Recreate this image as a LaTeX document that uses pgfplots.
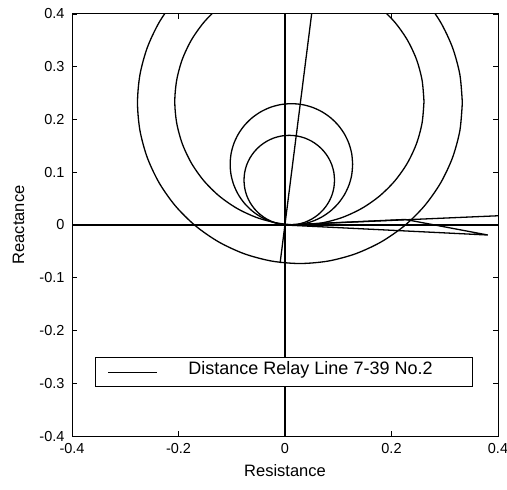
\documentclass[border=0pt]{standalone}
\usepackage{fontspec}
\setmainfont{Liberation Sans}
\usepackage{pgfplots}
\pgfplotsset{compat=1.18}
\begin{document}
\begin{tikzpicture}
\begin{axis}[
  name=ax,
  scale only axis, width=426pt, height=422pt,
  xmin=-0.4, xmax=0.4, ymin=-0.4, ymax=0.4,
  xtick={-0.4,-0.2,0,0.2,0.4}, xticklabels={-0.4,-0.2,0,0.2,0.4},
  ytick={-0.4,-0.3,-0.2,-0.1,0,0.1,0.2,0.3,0.4},
  yticklabels={-0.4,-0.3,-0.2,-0.1,0,0.1,0.2,0.3,0.4},
  tick align=inside, major tick length=5pt,
  axis line style={line width=1pt},
  tick style={line width=0.9pt, black},
  ticklabel style={font=\fontsize{14.5}{17}\selectfont},
  xticklabel style={yshift=-4pt},
  yticklabel style={xshift=-4pt},
  xlabel={Resistance}, ylabel={Reactance},
  label style={font=\fontsize{16.5}{19}\selectfont},
  xlabel style={at={(axis description cs:0.5,-0.0964)}, anchor=base},
  ylabel style={at={(axis description cs:-0.1256,0.5)}, anchor=center},
  legend style={at={(axis description cs:0.054,0.116)}, anchor=south west,
    draw=black, line width=0.9pt, inner xsep=0pt, inner ysep=0pt,
    /tikz/column sep=0pt, /tikz/row sep=0pt,
    nodes={inner sep=0pt, text height=17.2pt, text depth=11.8pt,
           font=\fontsize{18}{21}\selectfont}},
  legend cell align=left,
  legend image code/.code={\path[draw=none,fill=none] (0pt,-2pt) rectangle (93pt,2pt);\draw[#1] (13pt,0pt) -- (62pt,0pt);},
]
% reference axes through origin
\addplot[black, line width=1.1pt] coordinates {(-0.4,0) (0.4,0)};
\addlegendentry{\makebox[284pt][l]{Distance Relay Line 7-39 No.2}}
\addplot[black, line width=1.1pt, forget plot] coordinates {(0,-0.4) (0,0.4)};
% line angle
\addplot[black, line width=1.3pt, forget plot] coordinates {(-0.0092,-0.072) (0.050,0.40)};
% lines to the right
\addplot[black, line width=1.3pt, forget plot] coordinates {(0,0) (0.4,0.0175)};
\addplot[black, line width=1.3pt, forget plot] coordinates {(0,0) (0.226,0.0105) (0.381,-0.019) (0,0)};
% circle 1
\addplot[black, line width=1.3pt, smooth, forget plot] coordinates {
(0.093,0.085) (0.0917,0.0998) (0.0879,0.1141) (0.0816,0.1275) (0.0731,0.1396) (0.0626,0.1501)
(0.0505,0.1586) (0.0371,0.1649) (0.0228,0.1687) (0.008,0.170) (-0.0068,0.1687) (-0.0211,0.1649)
(-0.0345,0.1586) (-0.0466,0.1501) (-0.0571,0.1396) (-0.0656,0.1275) (-0.0719,0.1141) (-0.0757,0.0998)
(-0.077,0.085) (-0.0757,0.0702) (-0.0719,0.0559) (-0.0656,0.0425) (-0.0571,0.0304) (-0.0466,0.0199)
(-0.0345,0.0114) (-0.0211,0.0051) (-0.0068,0.0013) (0.008,0.000) (0.0228,0.0013) (0.0371,0.0051)
(0.0505,0.0114) (0.0626,0.0199) (0.0731,0.0304) (0.0816,0.0425) (0.0879,0.0559) (0.0917,0.0702)
(0.093,0.085)};
% circle 2
\addplot[black, line width=1.3pt, smooth, forget plot] coordinates {
(0.127,0.115) (0.1253,0.1350) (0.1201,0.1543) (0.1116,0.1725) (0.1001,0.1889) (0.0859,0.2031)
(0.0695,0.2146) (0.0513,0.2231) (0.032,0.2283) (0.012,0.230) (-0.008,0.2283) (-0.0273,0.2231)
(-0.0455,0.2146) (-0.0619,0.2031) (-0.0761,0.1889) (-0.0876,0.1725) (-0.0961,0.1543) (-0.1013,0.1350)
(-0.103,0.115) (-0.1013,0.095) (-0.0961,0.0757) (-0.0876,0.0575) (-0.0761,0.0411) (-0.0619,0.0269)
(-0.0455,0.0154) (-0.0273,0.0069) (-0.008,0.0017) (0.012,0) (0.032,0.0017) (0.0513,0.0069)
(0.0695,0.0154) (0.0859,0.0269) (0.1001,0.0411) (0.1116,0.0575) (0.1201,0.0757) (0.1253,0.095)
(0.127,0.115)};
% circle 3
\addplot[black, line width=1.3pt, smooth, forget plot] coordinates {
(0.261,0.234) (0.2574,0.2746) (0.2469,0.3140) (0.2296,0.3510) (0.2062,0.3844) (0.1774,0.4132)
(0.144,0.4366) (0.107,0.4539) (0.0676,0.4644) (0.027,0.468) (-0.0136,0.4644) (-0.053,0.4539)
(-0.09,0.4366) (-0.1234,0.4132) (-0.1522,0.3844) (-0.1756,0.3510) (-0.1929,0.3140) (-0.2034,0.2746)
(-0.207,0.234) (-0.2034,0.1934) (-0.1929,0.1541) (-0.1756,0.117) (-0.1522,0.0836) (-0.1234,0.0548)
(-0.09,0.0314) (-0.053,0.0141) (-0.0136,0.0036) (0.027,0) (0.0676,0.0036) (0.107,0.0141)
(0.144,0.0314) (0.1774,0.0548) (0.2062,0.0836) (0.2296,0.117) (0.2469,0.1541) (0.2574,0.1934)
(0.261,0.234)};
% circle 4
\addplot[black, line width=1.3pt, smooth, forget plot] coordinates {
(0.333,0.232) (0.3284,0.2849) (0.3146,0.3363) (0.2921,0.3845) (0.2616,0.4281) (0.2241,0.4656)
(0.1805,0.4961) (0.1323,0.5186) (0.0809,0.5324) (0.028,0.537) (-0.0249,0.5324) (-0.0763,0.5186)
(-0.1245,0.4961) (-0.1681,0.4656) (-0.2056,0.4281) (-0.2361,0.3845) (-0.2586,0.3363) (-0.2724,0.2849)
(-0.277,0.232) (-0.2724,0.1791) (-0.2586,0.1277) (-0.2361,0.0795) (-0.2056,0.0359) (-0.1681,-0.0016)
(-0.1245,-0.0321) (-0.0763,-0.0546) (-0.0249,-0.0684) (0.028,-0.073) (0.0809,-0.0684) (0.1323,-0.0546)
(0.1805,-0.0321) (0.2241,-0.0016) (0.2616,0.0359) (0.2921,0.0795) (0.3146,0.1277) (0.3284,0.1791)
(0.333,0.232)};
\end{axis}
\pgfresetboundingbox
\path ([xshift=-72pt,yshift=-53pt]ax.south west) rectangle ([xshift=9pt,yshift=14pt]ax.north east);
\end{tikzpicture}
\end{document}
